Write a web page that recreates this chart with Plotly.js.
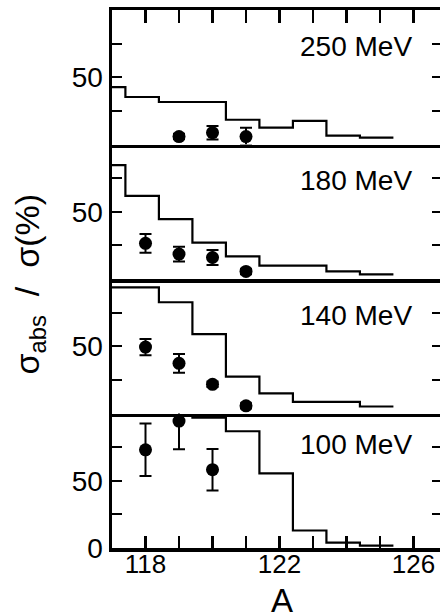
<!DOCTYPE html>
<html>
<head>
<meta charset="utf-8">
<script src="https://cdn.plot.ly/plotly-3.0.1.min.js"></script>
<style>
html,body{margin:0;padding:0;background:#fff;overflow:hidden;width:440px;height:614px;}
#chart{width:444px;height:614px;}
</style>
</head>
<body>
<div id="chart"></div>
<script>
// ---- data ----
const binEdges = [117.0, 117.4, 118.4, 119.4, 120.4, 121.4, 122.4, 123.4, 124.4, 125.4];
const hist250 = [42.6, 35.3, 31.6, 31.6, 18.4, 12.5, 17.6, 6.6, 5.1];
const hist180 = [84.7, 61.8, 44.5, 27.0, 16.8, 10.0, 10.0, 5.6, 3.4];
const hist140 = [93.8, 93.8, 82.7, 59.0, 27.4, 15.0, 8.7, 8.7, 5.2];
const hist100 = [98.5, 98.5, 98.5, 97.0, 86.8, 55.5, 13.0, 4.0, 1.7];

const ptsA250 = [119, 120, 121];
const pts250  = [5.9, 8.8, 5.9];
const err250  = [2, 5, 6.5];

const ptsA180 = [118, 119, 120, 121];
const pts180  = [26.5, 18.5, 16.0, 5.6];
const err180  = [7, 5.5, 5.5, 2];

const ptsA140 = [118, 119, 120, 121];
const pts140  = [49.4, 37.3, 21.7, 5.7];
const err140  = [6, 7, 2, 2];

const ptsA100 = [118, 119, 120];
const pts100  = [73.0, 94.4, 58.2];
const err100  = [19.5, 21, 15.4];

const panelLabels = ["100 MeV", "140 MeV", "180 MeV", "250 MeV"];
const xTickVals = [118, 119, 120, 121, 122, 123, 124, 125, 126];
const xTickText = ["118", " ", " ", " ", "122", " ", " ", " ", "126"];

// ---- build ----
const FONT = "Liberation Sans, Arial, sans-serif";
const panels = [
  {hist: hist100, A: ptsA100, v: pts100, e: err100},
  {hist: hist140, A: ptsA140, v: pts140, e: err140},
  {hist: hist180, A: ptsA180, v: pts180, e: err180},
  {hist: hist250, A: ptsA250, v: pts250, e: err250}
];
const traces = [];
panels.forEach((p, i) => {
  const sx = i === 0 ? "x" : "x" + (i + 1);
  const sy = i === 0 ? "y" : "y" + (i + 1);
  traces.push({
    type: "scatter", mode: "lines", xaxis: sx, yaxis: sy,
    x: binEdges, y: p.hist.concat([p.hist[p.hist.length - 1]]),
    line: {shape: "hv", color: "#000", width: 2.2},
    hoverinfo: "skip", showlegend: false
  });
  traces.push({
    type: "scatter", mode: "markers", xaxis: sx, yaxis: sy,
    x: p.A, y: p.v,
    marker: {color: "#000", size: 13},
    error_y: {type: "data", array: p.e, visible: true, color: "#000", thickness: 2, width: 6},
    showlegend: false
  });
});

const layout = {
  width: 444, height: 614,
  margin: {l: 112, r: 2, t: 10, b: 66},
  paper_bgcolor: "#fff", plot_bgcolor: "#fff",
  font: {family: FONT, color: "#000"},
  showlegend: false,
  annotations: []
};
const xRange = [117, 126.85];
for (let i = 0; i < 4; i++) {
  const xk = i === 0 ? "xaxis" : "xaxis" + (i + 1);
  const yk = i === 0 ? "yaxis" : "yaxis" + (i + 1);
  const yAnchor = i === 0 ? "y" : "y" + (i + 1);
  const xAnchor = i === 0 ? "x" : "x" + (i + 1);
  const xa = {
    range: xRange, anchor: yAnchor, showgrid: false, zeroline: false,
    showline: true, linecolor: "#000", linewidth: 3.5, mirror: false,
    tickvals: xTickVals, ticktext: xTickText, side: "bottom",
    ticks: "", showticklabels: false
  };
  if (i > 0) xa.matches = "x";
  if (i === 0) {
    xa.ticks = "inside"; xa.ticklen = 12; xa.tickwidth = 2.2; xa.tickcolor = "#000";
    xa.showticklabels = true; xa.tickfont = {size: 26, family: FONT};
    xa.ticklabelstandoff = -10;
  }
  if (i === 3) {
    xa.ticks = "inside"; xa.ticklen = 13; xa.tickwidth = 2.2; xa.tickcolor = "#000";
    xa.side = "top"; xa.mirror = true;
  }
  layout[xk] = xa;
  layout[yk] = {
    domain: [i * 0.25, (i + 1) * 0.25], range: [0, 100], anchor: xAnchor,
    showgrid: false, zeroline: false, showline: true, linecolor: "#000", linewidth: 3.5,
    mirror: "ticks", ticks: "inside", ticklen: 10, tickwidth: 2.2, tickcolor: "#000",
    tickvals: i === 0 ? [0, 25, 50, 75] : [25, 50, 75],
    ticktext: i === 0 ? ["0", " ", "50", " "] : [" ", "50", " "],
    tickfont: {size: 28, family: FONT}
  };
  layout.annotations.push({
    xref: xAnchor, yref: yAnchor, x: 126, y: i === 0 ? 77 : 73,
    xanchor: "right", yanchor: "middle", showarrow: false,
    text: panelLabels[i], font: {size: 28, family: FONT}
  });
}
layout.annotations.push({
  xref: "paper", yref: "paper", x: (29 - 112) / 330, y: 0.49,
  xanchor: "center", yanchor: "middle", textangle: -90, showarrow: false,
  text: "σ<sub>abs</sub>  /  σ(%)", font: {size: 34, family: FONT}
});
layout.annotations.push({
  xref: "paper", yref: "paper", x: (282 - 112) / 330, y: (548 - 600) / 538,
  xanchor: "center", yanchor: "middle", showarrow: false,
  text: "A", font: {size: 33, family: FONT}
});

Plotly.newPlot("chart", traces, layout, {staticPlot: true, displayModeBar: false});
</script>
</body>
</html>
